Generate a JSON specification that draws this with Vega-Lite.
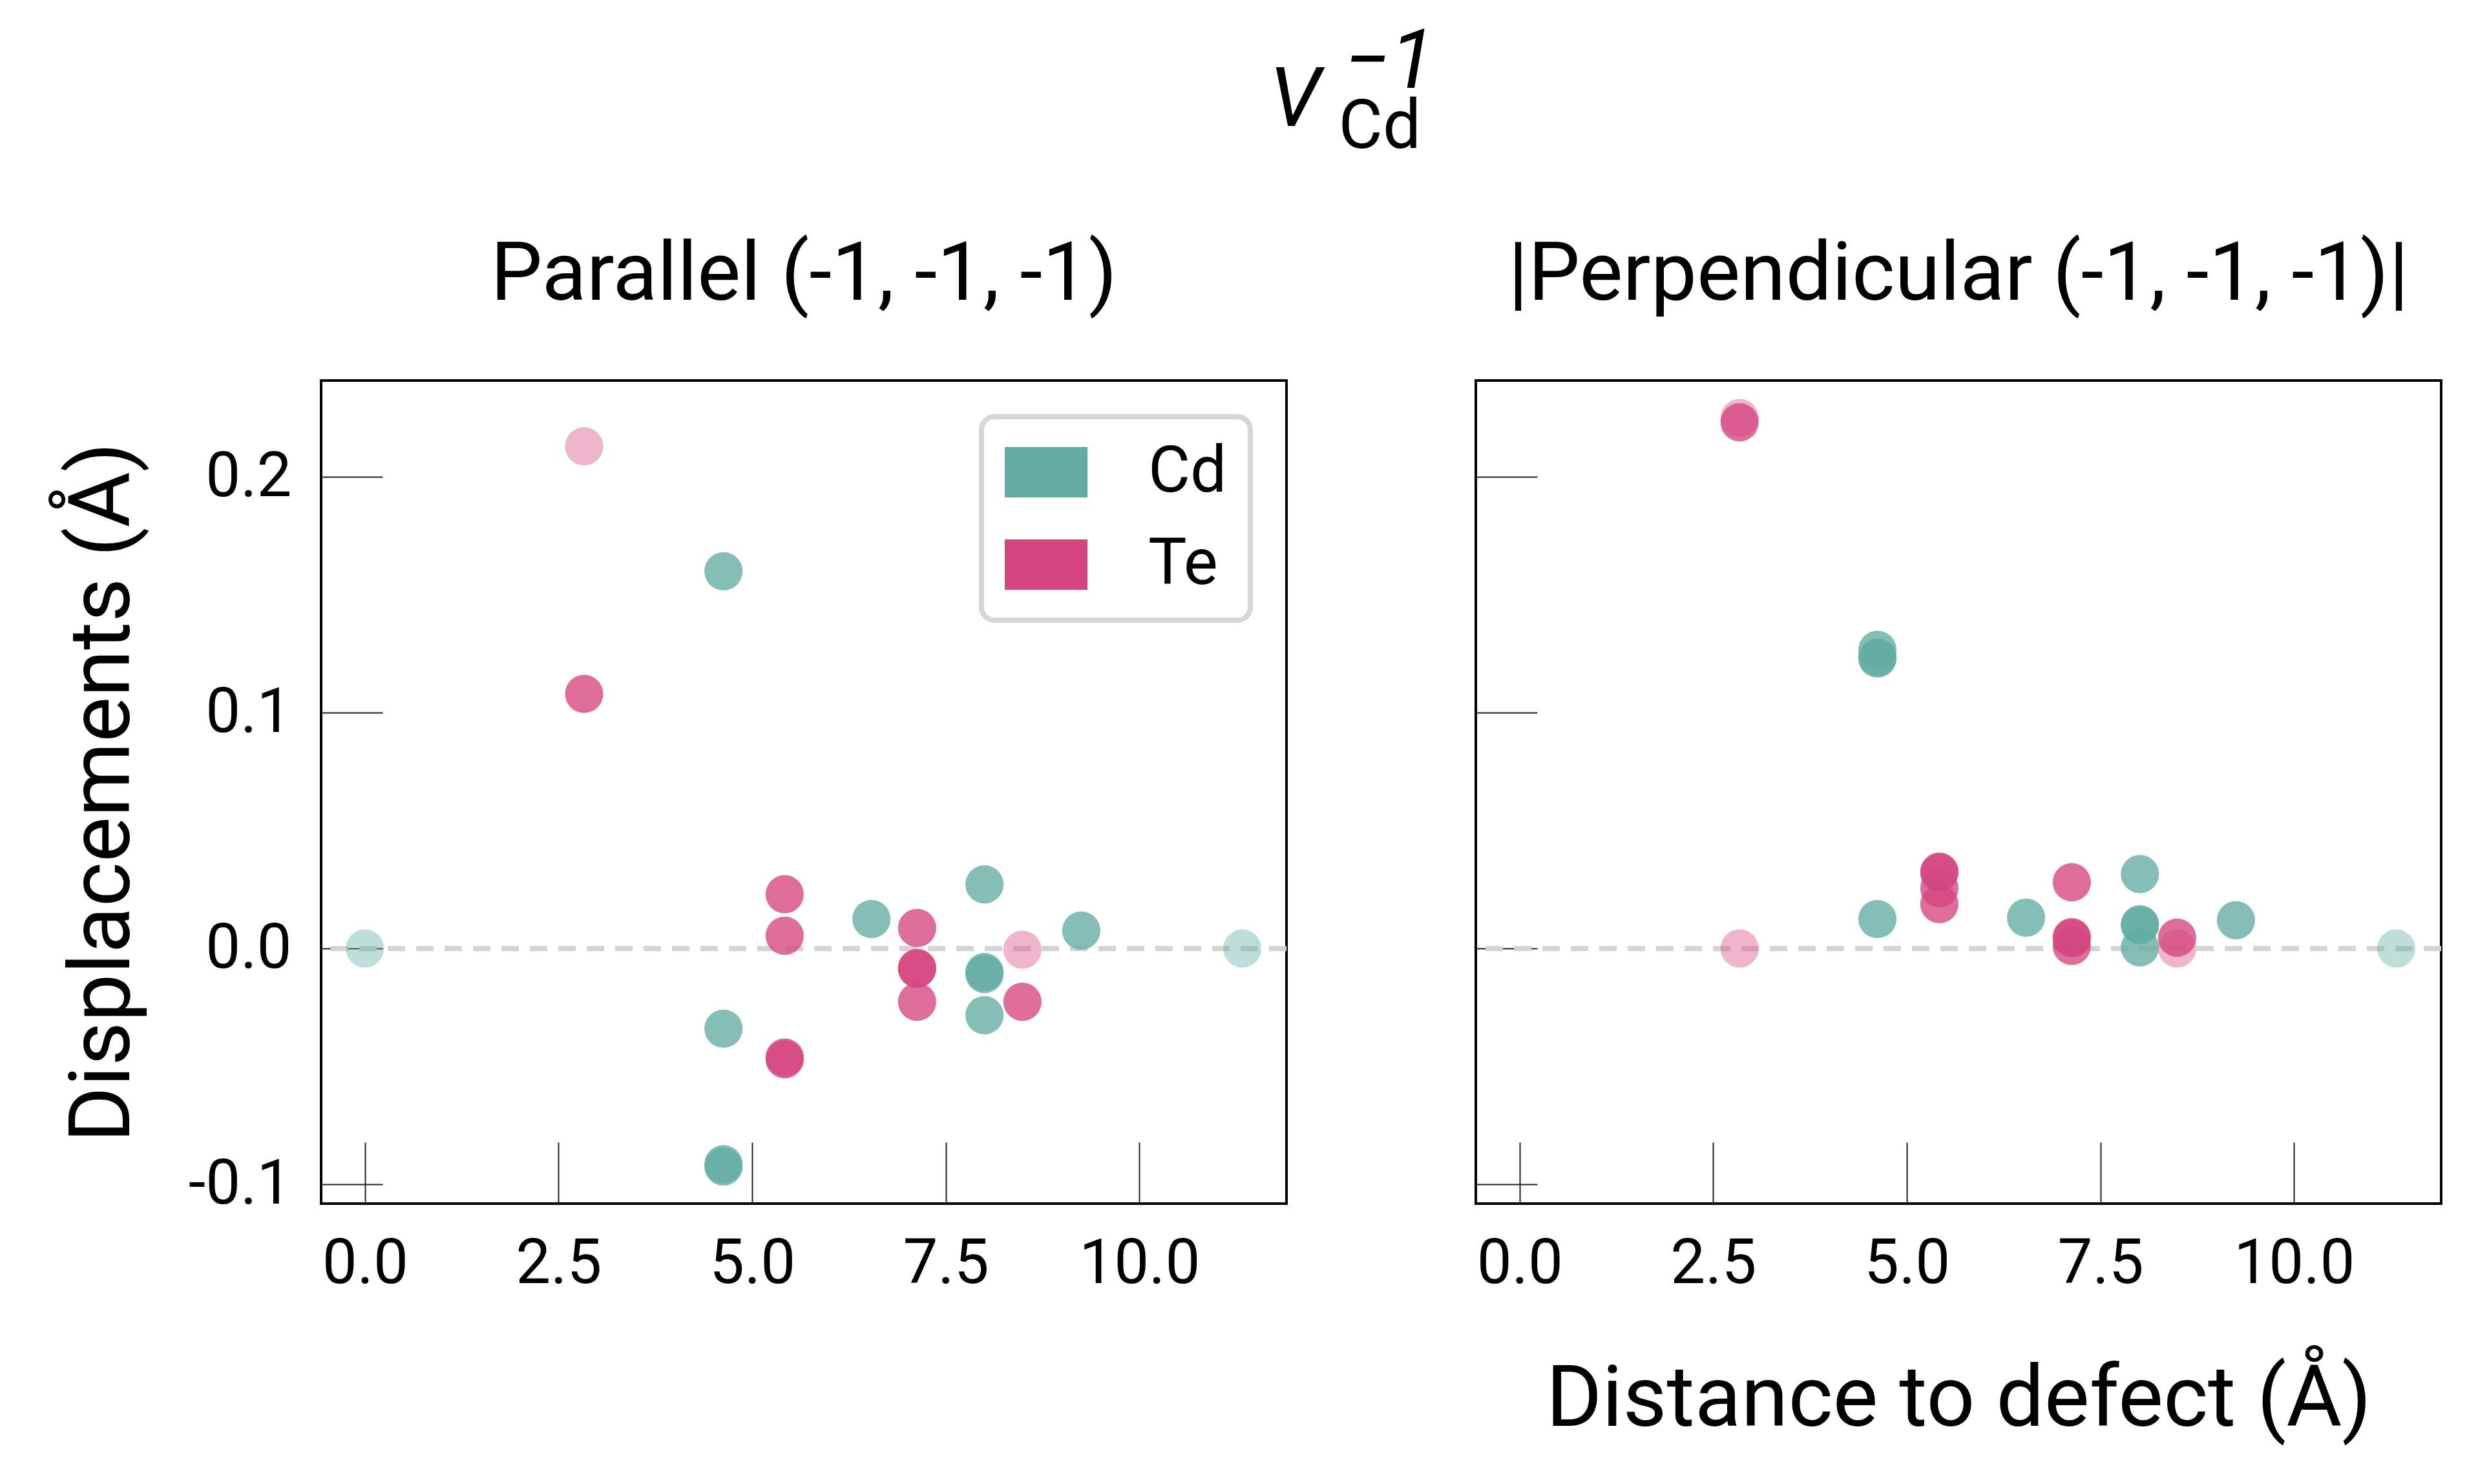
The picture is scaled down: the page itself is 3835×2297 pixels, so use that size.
{
  "$schema": "https://vega.github.io/schema/vega-lite/v6.json",
  "background": "white",
  "padding": {"left": 90, "top": 34, "right": 10, "bottom": 10},
  "datasets": {
    "parallel": [
      {"dist": 0.00, "disp": 0.0, "site": "Cd", "tier": "faint"},
      {"dist": 4.63, "disp": 0.160, "site": "Cd", "tier": "full"},
      {"dist": 4.63, "disp": -0.034, "site": "Cd", "tier": "full"},
      {"dist": 4.63, "disp": -0.0915, "site": "Cd", "tier": "full"},
      {"dist": 4.63, "disp": -0.0925, "site": "Cd", "tier": "full"},
      {"dist": 6.54, "disp": 0.0125, "site": "Cd", "tier": "full"},
      {"dist": 8.00, "disp": 0.0272, "site": "Cd", "tier": "full"},
      {"dist": 8.00, "disp": -0.0100, "site": "Cd", "tier": "full"},
      {"dist": 8.00, "disp": -0.0108, "site": "Cd", "tier": "full"},
      {"dist": 8.00, "disp": -0.0283, "site": "Cd", "tier": "full"},
      {"dist": 9.25, "disp": 0.0076, "site": "Cd", "tier": "full"},
      {"dist": 11.33, "disp": 0.0, "site": "Cd", "tier": "faint"},
      {"dist": 2.83, "disp": 0.213, "site": "Te", "tier": "faint"},
      {"dist": 2.83, "disp": 0.108, "site": "Te", "tier": "full"},
      {"dist": 5.42, "disp": 0.023, "site": "Te", "tier": "full"},
      {"dist": 5.42, "disp": 0.0054, "site": "Te", "tier": "full"},
      {"dist": 5.42, "disp": -0.0462, "site": "Te", "tier": "full"},
      {"dist": 5.42, "disp": -0.0470, "site": "Te", "tier": "full"},
      {"dist": 7.13, "disp": 0.0087, "site": "Te", "tier": "full"},
      {"dist": 7.13, "disp": -0.0082, "site": "Te", "tier": "full"},
      {"dist": 7.13, "disp": -0.0086, "site": "Te", "tier": "full"},
      {"dist": 7.13, "disp": -0.0226, "site": "Te", "tier": "full"},
      {"dist": 8.49, "disp": -0.0005, "site": "Te", "tier": "faint"},
      {"dist": 8.49, "disp": -0.0226, "site": "Te", "tier": "full"}
    ],
    "perpendicular": [
      {"dist": 4.62, "disp": 0.1267, "site": "Cd", "tier": "full"},
      {"dist": 4.62, "disp": 0.1234, "site": "Cd", "tier": "full"},
      {"dist": 4.62, "disp": 0.1230, "site": "Cd", "tier": "full"},
      {"dist": 4.62, "disp": 0.0125, "site": "Cd", "tier": "full"},
      {"dist": 6.54, "disp": 0.0131, "site": "Cd", "tier": "full"},
      {"dist": 8.01, "disp": 0.0316, "site": "Cd", "tier": "full"},
      {"dist": 8.01, "disp": 0.0103, "site": "Cd", "tier": "full"},
      {"dist": 8.01, "disp": 0.0099, "site": "Cd", "tier": "full"},
      {"dist": 8.01, "disp": 0.0005, "site": "Cd", "tier": "full"},
      {"dist": 9.25, "disp": 0.0120, "site": "Cd", "tier": "full"},
      {"dist": 11.32, "disp": 0.0, "site": "Cd", "tier": "faint"},
      {"dist": 2.84, "disp": 0.2250, "site": "Te", "tier": "faint"},
      {"dist": 2.84, "disp": 0.2232, "site": "Te", "tier": "full"},
      {"dist": 2.84, "disp": 0.0, "site": "Te", "tier": "faint"},
      {"dist": 5.42, "disp": 0.0326, "site": "Te", "tier": "full"},
      {"dist": 5.42, "disp": 0.0322, "site": "Te", "tier": "full"},
      {"dist": 5.42, "disp": 0.0256, "site": "Te", "tier": "full"},
      {"dist": 5.42, "disp": 0.0188, "site": "Te", "tier": "full"},
      {"dist": 7.13, "disp": 0.0281, "site": "Te", "tier": "full"},
      {"dist": 7.13, "disp": 0.0048, "site": "Te", "tier": "full"},
      {"dist": 7.13, "disp": 0.0044, "site": "Te", "tier": "full"},
      {"dist": 7.13, "disp": 0.0011, "site": "Te", "tier": "full"},
      {"dist": 8.49, "disp": 0.0046, "site": "Te", "tier": "full"},
      {"dist": 8.49, "disp": 0.0, "site": "Te", "tier": "faint"}
    ]
  },
  "title": {
    "text": ["\u200b\u2002\u2009\u2009\u22121", "V"],
    "subtitle": "\u200b\u2002\u2002Cd",
    "anchor": "middle",
    "align": "left",
    "dx": 27,
    "baseline": "top",
    "fontSize": 128,
    "lineHeight": 59,
    "fontStyle": "italic",
    "subtitleFont": "Roboto",
    "subtitleFontSize": 105,
    "subtitleColor": "black",
    "subtitlePadding": -76,
    "offset": 109
  },
  "spacing": 281,
  "hconcat": [
    {
      "width": 1494,
      "height": 1274,
      "title": "Parallel (-1, -1, -1)",
      "layer": [
        {
          "data": {"values": [{}]},
          "mark": {"type": "rule", "color": "#d4d4d4", "strokeWidth": 8, "strokeDash": [27, 17]},
          "encoding": {"y": {"datum": 0, "type": "quantitative"}}
        },
        {
          "data": {"name": "parallel"},
          "mark": {"type": "point", "filled": true, "size": 3500},
          "encoding": {
            "x": {
              "field": "dist", "type": "quantitative",
              "scale": {"domain": [-0.566, 11.9], "nice": false, "zero": false},
              "axis": {"values": [0, 2.5, 5, 7.5, 10], "format": ".1f", "title": null}
            },
            "y": {
              "field": "disp", "type": "quantitative",
              "scale": {"domain": [-0.1082, 0.2409], "nice": false, "zero": false},
              "axis": {
                "values": [-0.1, 0, 0.1, 0.2], "format": ".1f",
                "labelExpr": "replace(datum.label, '\u2212', '-')",
                "title": "Displacements (\u00c5)"
              }
            },
            "color": {
              "field": "site", "type": "nominal",
              "scale": {"domain": ["Cd", "Te"], "range": ["#62aca1", "#d4457e"]},
              "legend": {"title": null, "orient": "top-right"}
            },
            "opacity": {
              "field": "tier", "type": "nominal",
              "scale": {"domain": ["faint", "full"], "range": [0.4, 0.78]},
              "legend": null
            }
          }
        }
      ]
    },
    {
      "width": 1494,
      "height": 1274,
      "title": "|Perpendicular (-1, -1, -1)|",
      "layer": [
        {
          "data": {"values": [{}]},
          "mark": {"type": "rule", "color": "#d4d4d4", "strokeWidth": 8, "strokeDash": [27, 17]},
          "encoding": {"y": {"datum": 0, "type": "quantitative"}}
        },
        {
          "data": {"name": "perpendicular"},
          "mark": {"type": "point", "filled": true, "size": 3500},
          "encoding": {
            "x": {
              "field": "dist", "type": "quantitative",
              "scale": {"domain": [-0.566, 11.9], "nice": false, "zero": false},
              "axis": {"values": [0, 2.5, 5, 7.5, 10], "format": ".1f", "title": "Distance to defect (\u00c5)"}
            },
            "y": {
              "field": "disp", "type": "quantitative",
              "scale": {"domain": [-0.1082, 0.2409], "nice": false, "zero": false},
              "axis": {"values": [-0.1, 0, 0.1, 0.2], "labels": false, "title": null}
            },
            "color": {
              "field": "site", "type": "nominal",
              "scale": {"domain": ["Cd", "Te"], "range": ["#62aca1", "#d4457e"]},
              "legend": null
            },
            "opacity": {
              "field": "tier", "type": "nominal",
              "scale": {"domain": ["faint", "full"], "range": [0.4, 0.78]},
              "legend": null
            }
          }
        }
      ]
    }
  ],
  "resolve": {
    "scale": {"color": "independent", "opacity": "independent"},
    "legend": {"color": "independent"}
  },
  "config": {
    "font": "Roboto",
    "view": {"stroke": "black", "strokeWidth": 4},
    "axis": {
      "domain": false,
      "grid": false,
      "tickSize": -95,
      "tickWidth": 2,
      "tickColor": "#222222",
      "labelFont": "Roboto",
      "labelFontSize": 96,
      "labelColor": "black",
      "labelFlush": false,
      "labelLimit": 1000,
      "titleFont": "Roboto",
      "titleFontSize": 132,
      "titleFontWeight": "normal",
      "titleColor": "black"
    },
    "axisX": {"labelPadding": 141, "titlePadding": 98},
    "axisY": {"labelPadding": 141, "titlePadding": 70},
    "title": {
      "font": "Roboto",
      "fontSize": 127,
      "fontWeight": "normal",
      "color": "black",
      "offset": 98,
      "baseline": "alphabetic"
    },
    "legend": {
      "offset": 56,
      "padding": 36,
      "strokeColor": "#d6d6d6",
      "strokeWidth": 8,
      "cornerRadius": 20,
      "fillColor": "white",
      "symbolType": "M-1.28,-0.78H1.28V0.78H-1.28Z",
      "symbolSize": 10000,
      "symbolOffset": 14,
      "symbolOpacity": 1,
      "symbolStrokeWidth": 0,
      "labelFont": "Roboto",
      "labelFontSize": 100,
      "labelColor": "black",
      "labelOffset": 108,
      "labelLimit": 1000,
      "rowPadding": 43
    }
  }
}
